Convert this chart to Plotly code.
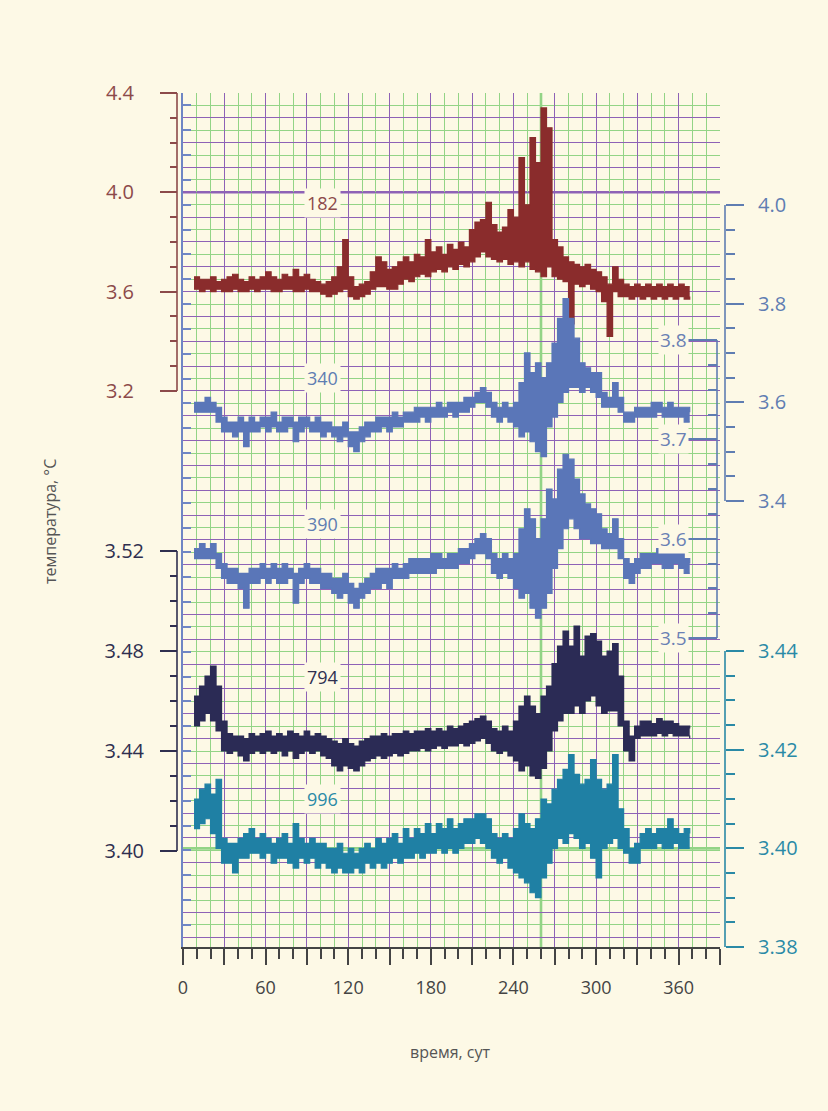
import plotly.graph_objects as go

# ---------------- data (4-day bins: low / high envelope of each record) ----------------
DAYS = list(range(8, 369, 4))  # sample days, 91 bins

T182_LO = [3.61, 3.60, 3.61, 3.60, 3.61, 3.60, 3.60, 3.61, 3.60, 3.60,
           3.61, 3.60, 3.61, 3.61, 3.60, 3.60, 3.61, 3.61, 3.60, 3.60,
           3.61, 3.60, 3.60, 3.59, 3.58, 3.59, 3.60, 3.61, 3.58, 3.57,
           3.58, 3.59, 3.61, 3.62, 3.62, 3.61, 3.61, 3.63, 3.65, 3.64,
           3.66, 3.67, 3.66, 3.68, 3.69, 3.68, 3.70, 3.69, 3.71, 3.70,
           3.72, 3.74, 3.76, 3.74, 3.73, 3.72, 3.73, 3.71, 3.72, 3.70,
           3.72, 3.69, 3.68, 3.66, 3.70, 3.66, 3.65, 3.64, 3.47, 3.63,
           3.62, 3.63, 3.61, 3.60, 3.56, 3.42, 3.60, 3.58, 3.58, 3.57,
           3.58, 3.57, 3.58, 3.57, 3.58, 3.57, 3.58, 3.57, 3.58, 3.57,
           3.58]
T182_HI = [3.66, 3.65, 3.65, 3.66, 3.64, 3.65, 3.66, 3.67, 3.65, 3.64,
           3.66, 3.65, 3.66, 3.68, 3.66, 3.65, 3.67, 3.66, 3.69, 3.66,
           3.67, 3.65, 3.64, 3.63, 3.64, 3.66, 3.70, 3.81, 3.66, 3.62,
           3.63, 3.64, 3.68, 3.74, 3.72, 3.69, 3.70, 3.72, 3.74, 3.72,
           3.75, 3.74, 3.81, 3.76, 3.78, 3.75, 3.79, 3.77, 3.80, 3.78,
           3.85, 3.88, 3.89, 3.96, 3.87, 3.84, 3.86, 3.93, 3.90, 4.14,
           3.95, 4.22, 4.12, 4.34, 4.26, 3.81, 3.78, 3.74, 3.72, 3.71,
           3.70, 3.71, 3.69, 3.68, 3.66, 3.63, 3.70, 3.65, 3.63, 3.62,
           3.63, 3.62, 3.63, 3.62, 3.63, 3.62, 3.63, 3.62, 3.63, 3.62,
           3.62]

T340_LO = [3.58, 3.58, 3.58, 3.58, 3.56, 3.54, 3.54, 3.53, 3.54, 3.51,
           3.54, 3.54, 3.55, 3.54, 3.55, 3.54, 3.54, 3.55, 3.52, 3.54,
           3.55, 3.54, 3.54, 3.53, 3.54, 3.53, 3.52, 3.53, 3.51, 3.50,
           3.52, 3.53, 3.54, 3.54, 3.55, 3.54, 3.55, 3.55, 3.56, 3.56,
           3.56, 3.57, 3.56, 3.57, 3.57, 3.57, 3.58, 3.57, 3.58, 3.58,
           3.59, 3.60, 3.60, 3.59, 3.57, 3.56, 3.57, 3.56, 3.55, 3.53,
           3.54, 3.52, 3.50, 3.49, 3.55, 3.57, 3.60, 3.62, 3.63, 3.63,
           3.62, 3.63, 3.62, 3.61, 3.59, 3.59, 3.59, 3.58, 3.56, 3.56,
           3.57, 3.57, 3.57, 3.57, 3.58, 3.57, 3.57, 3.57, 3.57, 3.56,
           3.56]
T340_HI = [3.60, 3.60, 3.61, 3.60, 3.59, 3.57, 3.56, 3.56, 3.57, 3.56,
           3.57, 3.56, 3.57, 3.57, 3.58, 3.56, 3.57, 3.57, 3.56, 3.57,
           3.57, 3.56, 3.57, 3.56, 3.56, 3.55, 3.55, 3.56, 3.54, 3.54,
           3.55, 3.56, 3.56, 3.57, 3.57, 3.57, 3.58, 3.57, 3.58, 3.58,
           3.59, 3.59, 3.59, 3.59, 3.60, 3.59, 3.60, 3.60, 3.60, 3.61,
           3.61, 3.62, 3.63, 3.62, 3.60, 3.59, 3.60, 3.59, 3.60, 3.64,
           3.70, 3.66, 3.68, 3.65, 3.68, 3.72, 3.77, 3.81, 3.77, 3.73,
           3.68, 3.67, 3.66, 3.66, 3.62, 3.61, 3.64, 3.61, 3.58, 3.58,
           3.59, 3.59, 3.59, 3.60, 3.60, 3.59, 3.60, 3.59, 3.59, 3.59,
           3.58]

T390_LO = [3.580, 3.580, 3.580, 3.580, 3.570, 3.560, 3.555, 3.555, 3.550, 3.530,
           3.555, 3.555, 3.560, 3.555, 3.560, 3.555, 3.555, 3.560, 3.535, 3.555,
           3.560, 3.555, 3.555, 3.550, 3.550, 3.545, 3.540, 3.545, 3.535, 3.530,
           3.540, 3.545, 3.550, 3.550, 3.555, 3.550, 3.560, 3.560, 3.560, 3.565,
           3.565, 3.565, 3.565, 3.565, 3.570, 3.570, 3.570, 3.570, 3.575, 3.575,
           3.580, 3.585, 3.585, 3.580, 3.565, 3.560, 3.565, 3.560, 3.550, 3.540,
           3.545, 3.530, 3.520, 3.530, 3.545, 3.570, 3.590, 3.610, 3.620, 3.610,
           3.600, 3.600, 3.595, 3.595, 3.590, 3.590, 3.590, 3.580, 3.560, 3.555,
           3.565, 3.570, 3.570, 3.575, 3.575, 3.570, 3.570, 3.575, 3.570, 3.565,
           3.565]
T390_HI = [3.590, 3.595, 3.590, 3.595, 3.585, 3.575, 3.570, 3.570, 3.565, 3.565,
           3.570, 3.570, 3.575, 3.570, 3.575, 3.570, 3.575, 3.570, 3.565, 3.570,
           3.575, 3.570, 3.570, 3.565, 3.565, 3.560, 3.560, 3.565, 3.555, 3.550,
           3.555, 3.560, 3.565, 3.570, 3.570, 3.570, 3.575, 3.570, 3.575, 3.580,
           3.580, 3.580, 3.580, 3.585, 3.585, 3.580, 3.585, 3.585, 3.590, 3.590,
           3.595, 3.600, 3.605, 3.600, 3.585, 3.580, 3.585, 3.580, 3.585, 3.610,
           3.630, 3.620, 3.600, 3.620, 3.650, 3.640, 3.670, 3.685, 3.680, 3.660,
           3.645, 3.635, 3.630, 3.625, 3.610, 3.605, 3.620, 3.600, 3.580, 3.575,
           3.580, 3.585, 3.585, 3.585, 3.590, 3.585, 3.585, 3.585, 3.585, 3.580,
           3.575]

T794_LO = [3.450, 3.452, 3.455, 3.452, 3.448, 3.440, 3.439, 3.440, 3.438, 3.436,
           3.439, 3.440, 3.439, 3.440, 3.439, 3.440, 3.438, 3.440, 3.437, 3.439,
           3.440, 3.439, 3.440, 3.438, 3.437, 3.434, 3.432, 3.434, 3.433, 3.432,
           3.434, 3.436, 3.437, 3.438, 3.437, 3.438, 3.439, 3.438, 3.439, 3.440,
           3.440, 3.441, 3.440, 3.441, 3.442, 3.441, 3.442, 3.442, 3.443, 3.442,
           3.443, 3.444, 3.445, 3.443, 3.440, 3.439, 3.440, 3.438, 3.436, 3.432,
           3.434, 3.430, 3.429, 3.433, 3.440, 3.448, 3.452, 3.455, 3.455, 3.458,
           3.455, 3.460, 3.462, 3.458, 3.455, 3.456, 3.456, 3.450, 3.440, 3.436,
           3.445, 3.446, 3.446, 3.446, 3.447, 3.446, 3.447, 3.446, 3.446, 3.446,
           3.445]
T794_HI = [3.462, 3.466, 3.470, 3.474, 3.466, 3.452, 3.447, 3.446, 3.446, 3.445,
           3.447, 3.446, 3.447, 3.448, 3.446, 3.447, 3.446, 3.448, 3.447, 3.446,
           3.448, 3.446, 3.447, 3.446, 3.445, 3.444, 3.443, 3.445, 3.443, 3.442,
           3.444, 3.445, 3.446, 3.446, 3.447, 3.446, 3.447, 3.447, 3.448, 3.447,
           3.448, 3.448, 3.449, 3.448, 3.449, 3.448, 3.450, 3.449, 3.450, 3.451,
           3.452, 3.453, 3.454, 3.452, 3.449, 3.448, 3.450, 3.448, 3.452, 3.458,
           3.462, 3.458, 3.455, 3.462, 3.466, 3.475, 3.482, 3.488, 3.482, 3.490,
           3.478, 3.486, 3.487, 3.484, 3.478, 3.480, 3.483, 3.470, 3.452, 3.446,
           3.450, 3.452, 3.452, 3.451, 3.453, 3.452, 3.452, 3.451, 3.450, 3.450,
           3.449]

T996_LO = [3.404, 3.405, 3.406, 3.403, 3.400, 3.397, 3.397, 3.395, 3.398, 3.398,
           3.399, 3.399, 3.398, 3.399, 3.397, 3.398, 3.398, 3.397, 3.396, 3.398,
           3.397, 3.398, 3.396, 3.397, 3.396, 3.395, 3.396, 3.395, 3.395, 3.396,
           3.395, 3.397, 3.396, 3.397, 3.396, 3.397, 3.398, 3.397, 3.398, 3.398,
           3.399, 3.398, 3.399, 3.399, 3.400, 3.399, 3.400, 3.399, 3.400, 3.401,
           3.401, 3.402, 3.401, 3.400, 3.398, 3.397, 3.398, 3.396, 3.395, 3.394,
           3.393, 3.391, 3.390, 3.394, 3.397, 3.400, 3.402, 3.401, 3.403, 3.402,
           3.400, 3.401, 3.398, 3.394, 3.400, 3.401, 3.402, 3.400, 3.399, 3.397,
           3.397, 3.400, 3.400, 3.400, 3.401, 3.400, 3.400, 3.401, 3.400, 3.400,
           3.400]
T996_HI = [3.410, 3.412, 3.413, 3.411, 3.414, 3.402, 3.401, 3.401, 3.402, 3.403,
           3.404, 3.402, 3.403, 3.402, 3.401, 3.402, 3.403, 3.401, 3.405, 3.402,
           3.401, 3.402, 3.401, 3.401, 3.400, 3.400, 3.401, 3.399, 3.400, 3.399,
           3.400, 3.401, 3.400, 3.402, 3.401, 3.402, 3.403, 3.401, 3.404, 3.402,
           3.404, 3.403, 3.405, 3.403, 3.405, 3.404, 3.406, 3.404, 3.405, 3.406,
           3.406, 3.407, 3.407, 3.406, 3.403, 3.402, 3.403, 3.402, 3.404, 3.407,
           3.405, 3.404, 3.406, 3.410, 3.409, 3.412, 3.414, 3.416, 3.419, 3.415,
           3.413, 3.414, 3.418, 3.414, 3.412, 3.413, 3.419, 3.408, 3.404, 3.400,
           3.401, 3.403, 3.404, 3.403, 3.404, 3.404, 3.406, 3.404, 3.403, 3.404,
           3.403]

X_TICKS = [0, 30, 60, 90, 120, 150, 180, 210, 240, 270, 300, 330, 360, 390]
X_LABELS = ["0", "", "60", "", "120", "", "180", "", "240", "", "300", "", "360", ""]

# ---------------- styles ----------------
BG = "#fdf9e6"
PURPLE = "#8e62b6"
GREEN = "#93d486"
C182 = "#8a2c2c"
C182_AX = "#8c4a4a"
C340 = "#5a76b8"
C340_AX = "#5f7db2"
C794 = "#2b2b55"
C794_AX = "#2f2f4f"
C996 = "#1f80a4"
C996_AX = "#2a8aa6"
FONT = "Open Sans"

W, H = 828, 1111
ML, MR, MT, MB = 170, 90, 93, 164
PW = W - ML - MR


def px_x(p):
    return (p - ML) / PW


def px_y(p):
    return (H - MB - p) / (H - MT - MB)


def steps(a, b, s):
    out, v = [], a
    while v <= b + 1e-9:
        out.append(round(v, 4))
        v += s
    return out


fig = go.Figure()
# brown record goes on the base axis (same scale as its labelled axis y2)
for lo, hi, col, ax in [(T182_LO, T182_HI, C182, "y"),
                        (T340_LO, T340_HI, C340, "y3"),
                        (T390_LO, T390_HI, C340, "y4"),
                        (T794_LO, T794_HI, C794, "y5"),
                        (T996_LO, T996_HI, C996, "y6")]:
    fig.add_trace(go.Scatter(x=DAYS, y=lo, mode="lines", yaxis=ax,
                             line=dict(color=col, width=1.2, shape="hv"),
                             showlegend=False, hoverinfo="skip"))
    fig.add_trace(go.Scatter(x=DAYS, y=hi, mode="lines", yaxis=ax,
                             line=dict(color=col, width=1.2, shape="hv"),
                             fill="tonexty", fillcolor=col,
                             showlegend=False, hoverinfo="skip"))


def free_axis(color, rng, side, pos, majors, fmt, minor_step, ticks="outside",
              ticklen=17, minorlen=7, labels=True, standoff=12):
    mn = [v for v in steps(min(majors), max(majors), minor_step)
          if all(abs(v - m) > 1e-6 for m in majors)]
    return dict(overlaying="y", anchor="free", position=pos, side=side, range=rng,
                showgrid=False, zeroline=False, showline=False,
                tickmode="array", tickvals=majors,
                ticktext=[fmt.format(v) for v in majors],
                ticks=ticks, ticklen=ticklen, tickwidth=1.5, tickcolor=color,
                showticklabels=labels, ticklabelstandoff=standoff,
                tickfont=dict(color=color, size=20, family=FONT),
                minor=dict(tickmode="array", tickvals=mn, ticks=ticks,
                           ticklen=minorlen, tickwidth=1.5, tickcolor=color,
                           showgrid=False))


POS_L = px_x(177)
POS_R = px_x(725)
POS_IN = px_x(717)

fig.update_layout(
    width=W, height=H,
    margin=dict(l=ML, r=MR, t=MT, b=MB, pad=0),
    paper_bgcolor=BG, plot_bgcolor="rgba(0,0,0,0)",
    font=dict(family=FONT, color="#444"),
    showlegend=False,
    xaxis=dict(range=[0, 390], domain=[px_x(183), px_x(720)], anchor="y",
               tickmode="array", tickvals=X_TICKS, ticktext=X_LABELS,
               showgrid=True, gridcolor=PURPLE, gridwidth=1.3,
               zeroline=False, showline=True, linecolor="#444", linewidth=1.5,
               ticks="outside", ticklen=16, tickwidth=1.5, tickcolor="#444",
               ticklabelstandoff=8,
               tickfont=dict(size=18, color="#444", family=FONT),
               minor=dict(tickmode="linear", tick0=0, dtick=10, showgrid=True,
                          gridcolor=GREEN, gridwidth=1.3, ticks="outside",
                          ticklen=10, tickwidth=1.5, tickcolor="#444")),
    yaxis=dict(range=[0.9607, 4.4], domain=[0, 1], anchor="x",
               tickmode="linear", tick0=4.4, dtick=0.1,
               showgrid=True, gridcolor=PURPLE, gridwidth=1.3,
               zeroline=False, showticklabels=False, ticks="",
               showline=True, linecolor="#6f86c4", linewidth=1.5,
               minor=dict(tickmode="linear", tick0=4.4, dtick=0.05, showgrid=True,
                          gridcolor=GREEN, gridwidth=1.3, ticks="inside",
                          ticklen=8, tickwidth=1.5, tickcolor="#6f86c4")),
    yaxis2=free_axis(C182_AX, [0.9607, 4.4], "left", POS_L,
                     [3.2, 3.6, 4.0, 4.4], "{:.1f}", 0.1, standoff=22),
    yaxis3=free_axis(C340_AX, [2.4958, 4.2270], "right", POS_R,
                     [3.4, 3.6, 3.8, 4.0], "{:.1f}", 0.05, ticklen=18, minorlen=9,
                     standoff=10),
    yaxis4=free_axis(C340_AX, [3.18891, 4.04867], "right", POS_IN,
                     [3.5, 3.6, 3.7, 3.8], "{:.1f}", 0.025, ticks="inside",
                     ticklen=29, minorlen=9, labels=False),
    yaxis5=free_axis(C794_AX, [3.3616, 3.7032], "left", POS_L,
                     [3.40, 3.44, 3.48, 3.52], "{:.2f}", 0.01),
    yaxis6=free_axis(C996_AX, [3.38, 3.55311], "right", POS_R,
                     [3.38, 3.40, 3.42, 3.44], "{:.2f}", 0.005, ticklen=18,
                     minorlen=9, standoff=10),
)

# axis brackets (axis lines spanning only the labelled range)
for ax, pos, lo, hi, col in [("y2", POS_L, 3.2, 4.4, C182_AX),
                             ("y3", POS_R, 3.4, 4.0, C340_AX),
                             ("y4", POS_IN, 3.5, 3.8, C340_AX),
                             ("y5", POS_L, 3.40, 3.52, C794_AX),
                             ("y6", POS_R, 3.38, 3.44, C996_AX)]:
    fig.add_shape(type="line", xref="paper", yref=ax, x0=pos, x1=pos, y0=lo, y1=hi,
                  line=dict(color=col, width=1.6), layer="above")

# emphasised grid lines
fig.add_shape(type="line", xref="x", yref="y", x0=0, x1=390, y0=4.0, y1=4.0,
              line=dict(color=PURPLE, width=2.4), layer="below")
fig.add_shape(type="line", xref="x", yref="y6", x0=0, x1=390, y0=3.40, y1=3.40,
              line=dict(color=GREEN, width=2.6), layer="below")
fig.add_shape(type="line", xref="x", yref="paper", x0=260, x1=260, y0=0, y1=1,
              line=dict(color=GREEN, width=2.6), layer="below")

# inner axis labels (390 m) with background boxes
for v in [3.8, 3.7, 3.6, 3.5]:
    fig.add_annotation(xref="paper", yref="y4", x=px_x(689), y=v, text=f"{v:.1f}",
                       showarrow=False, xanchor="right", yanchor="middle",
                       bgcolor=BG, borderpad=1,
                       font=dict(size=19, color="#6a80b4", family=FONT))

# depth labels
for txt, xp, yp, col in [("182", 322, 203, C182_AX), ("340", 322, 378, C340_AX),
                         ("390", 322, 524, C340_AX), ("794", 322, 677, C794_AX),
                         ("996", 322, 799, C996_AX)]:
    fig.add_annotation(xref="paper", yref="paper", x=px_x(xp), y=px_y(yp), text=txt,
                       showarrow=False, xanchor="center", yanchor="middle",
                       bgcolor=BG, borderpad=2,
                       font=dict(size=18, color=col, family=FONT))

# axis titles
fig.add_annotation(xref="paper", yref="paper", x=px_x(50), y=px_y(522),
                   text="температура, °C", textangle=-90, showarrow=False,
                   xanchor="center", yanchor="middle",
                   font=dict(size=16, color="#555", family=FONT))
fig.add_annotation(xref="paper", yref="paper", x=px_x(450), y=px_y(1052),
                   text="время, сут", showarrow=False,
                   xanchor="center", yanchor="middle",
                   font=dict(size=16, color="#555", family=FONT))

fig.write_html("out.html",
               config={"displayModeBar": False},
               post_script="document.body.style.margin='0';"
                           "document.body.style.background='" + BG + "';")
